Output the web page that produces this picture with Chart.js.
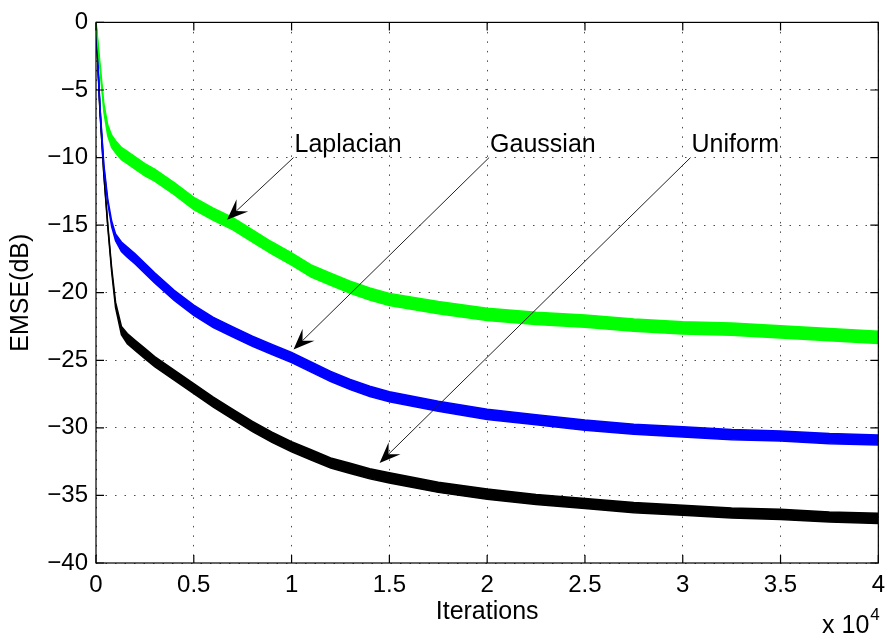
<!DOCTYPE html>
<html>
<head>
<meta charset="utf-8">
<title>EMSE learning curves</title>
<script src="https://cdn.jsdelivr.net/npm/chart.js@4.4.1/dist/chart.umd.min.js"></script>
<style>
  html, body { margin: 0; padding: 0; background: #fff; }
  #wrap { width: 893px; height: 640px; }
</style>
</head>
<body>
<div id="wrap"><canvas id="emseChart" width="893" height="640"></canvas></div>
<script>
// ========================================
// Data
// ========================================
const iterations = [0, 200, 400, 600, 800, 1000, 1300, 1600, 2000, 2500, 3000, 4000, 5000, 6000, 7000, 8000, 9000,
  10000, 11000, 12000, 13000, 14000, 15000, 17500, 20000, 22500, 25000, 27500, 30000, 32500, 35000, 37500, 40000];

// mean EMSE (dB) and peak-to-peak width of the noisy trace (dB)
const laplacianMean = [0, -3.2, -6.3, -8.0, -8.8, -9.2, -9.7, -10.0, -10.4, -10.9, -11.3, -12.3, -13.4, -14.2, -14.9, -15.8, -16.7,
  -17.5, -18.4, -19.0, -19.6, -20.1, -20.5, -21.1, -21.6, -21.9, -22.1, -22.4, -22.6, -22.7, -22.9, -23.1, -23.3];
const laplacianSpread = [0.1, 0.4, 0.6, 0.8, 0.9, 0.9, 0.9, 0.9, 0.9, 0.9, 0.9, 0.9, 0.9, 0.9, 0.9, 0.9, 0.9,
  0.9, 0.9, 0.9, 0.9, 0.9, 0.9, 0.9, 0.9, 0.9, 0.9, 0.9, 0.9, 0.9, 0.9, 0.9, 0.9];

const gaussianMean = [0, -6.2, -10.6, -13.2, -14.9, -15.9, -16.6, -17.0, -17.5, -18.2, -18.9, -20.2, -21.3, -22.2, -22.9, -23.6, -24.2,
  -24.8, -25.5, -26.2, -26.8, -27.3, -27.7, -28.4, -29.0, -29.4, -29.8, -30.1, -30.3, -30.5, -30.6, -30.8, -30.9];
const gaussianSpread = [0, 0.1, 0.2, 0.3, 0.4, 0.5, 0.7, 0.75, 0.75, 0.75, 0.75, 0.75, 0.75, 0.75, 0.75, 0.75, 0.75,
  0.75, 0.75, 0.75, 0.75, 0.75, 0.75, 0.75, 0.75, 0.75, 0.75, 0.75, 0.75, 0.75, 0.75, 0.75, 0.75];

const uniformMean = [0, -6.5, -11.2, -15.0, -18.3, -20.9, -22.8, -23.4, -23.9, -24.5, -25.1, -26.1, -27.1, -28.1, -29.0, -29.9, -30.7,
  -31.4, -32.0, -32.6, -33.0, -33.4, -33.7, -34.4, -34.9, -35.3, -35.6, -35.9, -36.1, -36.3, -36.4, -36.6, -36.7];
const uniformSpread = [0, 0.1, 0.1, 0.2, 0.3, 0.4, 0.6, 0.75, 0.75, 0.75, 0.75, 0.75, 0.75, 0.75, 0.75, 0.75, 0.75,
  0.75, 0.75, 0.75, 0.75, 0.75, 0.75, 0.75, 0.75, 0.75, 0.75, 0.75, 0.75, 0.75, 0.75, 0.75, 0.75];

const xTicks = [0, 5000, 10000, 15000, 20000, 25000, 30000, 35000, 40000];
const xTickLabels = ['0', '0.5', '1', '1.5', '2', '2.5', '3', '3.5', '4'];
const yTicks = [0, -5, -10, -15, -20, -25, -30, -35, -40];
const yTickLabels = ['0', '\u22125', '\u221210', '\u221215', '\u221220', '\u221225', '\u221230', '\u221235', '\u221240'];

// text labels with arrows, in data units
const annotations = [
  { text: 'Laplacian', x: 10100, y: -10, tipX: 6700, tipY: -14.6 },
  { text: 'Gaussian', x: 20100, y: -10, tipX: 10100, tipY: -24.2 },
  { text: 'Uniform', x: 30400, y: -10, tipX: 14500, tipY: -32.6 }
];

// ========================================
// Helpers
// ========================================
const FONT = "'Liberation Sans', Arial, Helvetica, sans-serif";

function band(mean, spread, sign) {
  return iterations.map((it, i) => ({ x: it, y: mean[i] + sign * spread[i] / 2 }));
}

function traceDatasets(mean, spread, color) {
  return [
    { data: band(mean, spread, -1), borderColor: color, borderWidth: 1.5, pointRadius: 0, fill: false },
    { data: band(mean, spread, 1), borderColor: color, borderWidth: 1.5, pointRadius: 0,
      backgroundColor: color, fill: '-1' }
  ];
}

// ========================================
// MATLAB style frame, inner ticks and arrows
// ========================================
const matlabFrame = {
  id: 'matlabFrame',
  afterDatasetsDraw(chart) {
    const { ctx, chartArea: a, scales: { x, y } } = chart;
    ctx.save();

    // box
    ctx.strokeStyle = '#000';
    ctx.lineWidth = 1.2;
    ctx.strokeRect(a.left, a.top, a.right - a.left, a.bottom - a.top);

    // inward ticks
    ctx.beginPath();
    xTicks.forEach(v => {
      const px = x.getPixelForValue(v);
      ctx.moveTo(px, a.bottom); ctx.lineTo(px, a.bottom - 8);
      ctx.moveTo(px, a.top); ctx.lineTo(px, a.top + 8);
    });
    yTicks.forEach(v => {
      const py = y.getPixelForValue(v);
      ctx.moveTo(a.left, py); ctx.lineTo(a.left + 8, py);
      ctx.moveTo(a.right, py); ctx.lineTo(a.right - 8, py);
    });
    ctx.stroke();

    // arrows + labels
    ctx.strokeStyle = '#222';
    ctx.fillStyle = '#000';
    ctx.lineWidth = 1;
    ctx.font = '25px ' + FONT;
    ctx.textAlign = 'left';
    ctx.textBaseline = 'alphabetic';
    annotations.forEach(an => {
      const sx = x.getPixelForValue(an.x), sy = y.getPixelForValue(an.y);
      const tx = x.getPixelForValue(an.tipX), ty = y.getPixelForValue(an.tipY);
      const len = Math.hypot(sx - tx, sy - ty);
      const ux = (sx - tx) / len, uy = (sy - ty) / len;
      const headLen = 21, halfW = 8.5;

      ctx.beginPath();
      ctx.moveTo(sx, sy);
      ctx.lineTo(tx + ux * headLen * 0.6, ty + uy * headLen * 0.6);
      ctx.stroke();

      ctx.beginPath();
      ctx.moveTo(tx, ty);
      ctx.lineTo(tx + ux * headLen - uy * halfW, ty + uy * headLen + ux * halfW);
      ctx.lineTo(tx + ux * headLen * 0.6, ty + uy * headLen * 0.6);
      ctx.lineTo(tx + ux * headLen + uy * halfW, ty + uy * headLen - ux * halfW);
      ctx.closePath();
      ctx.fill();

      ctx.fillText(an.text, sx + 1, sy - 6);
    });

    // exponent under the x axis
    ctx.textAlign = 'right';
    ctx.font = '25px ' + FONT;
    ctx.fillText('x 10', a.right - 9, 633);
    ctx.textAlign = 'left';
    ctx.font = '17px ' + FONT;
    ctx.fillText('4', a.right - 8, 620);

    ctx.restore();
  }
};

// ========================================
// Chart
// ========================================
const tickFont = { family: FONT, size: 24 };
const gridColor = 'rgba(0, 0, 0, 0.7)';

new Chart(document.getElementById('emseChart'), {
  type: 'line',
  data: {
    datasets: [
      ...traceDatasets(laplacianMean, laplacianSpread, '#00ff00'),
      ...traceDatasets(gaussianMean, gaussianSpread, '#0000ff'),
      ...traceDatasets(uniformMean, uniformSpread, '#000000')
    ]
  },
  options: {
    responsive: false,
    animation: false,
    devicePixelRatio: 1,
    layout: { padding: { left: 0, right: 11, top: 15.5, bottom: 0 } },
    elements: { line: { tension: 0 } },
    plugins: {
      legend: { display: false },
      tooltip: { enabled: false }
    },
    scales: {
      x: {
        type: 'linear',
        min: 0,
        max: 40000,
        afterBuildTicks: s => { s.ticks = xTicks.map(v => ({ value: v })); },
        afterFit: s => { s.height = 77; },
        ticks: {
          callback: (v, i) => xTickLabels[i],
          font: tickFont,
          color: '#000',
          padding: 8,
          maxRotation: 0,
          autoSkip: false
        },
        grid: { color: gridColor, lineWidth: 1, drawTicks: false },
        border: { display: false, dash: [1.5, 8] },
        title: {
          display: true,
          text: 'Iterations',
          color: '#000',
          font: { family: FONT, size: 25, lineHeight: 1.2 },
          padding: { top: 0, bottom: 13 }
        }
      },
      y: {
        min: -40,
        max: 0,
        afterBuildTicks: s => { s.ticks = yTicks.map(v => ({ value: v })); },
        afterFit: s => { s.width = 96; },
        ticks: {
          callback: (v, i) => yTickLabels[i],
          font: tickFont,
          color: '#000',
          padding: 8,
          autoSkip: false
        },
        grid: { color: gridColor, lineWidth: 1, drawTicks: false },
        border: { display: false, dash: [1.5, 8] },
        title: {
          display: true,
          text: 'EMSE(dB)',
          color: '#000',
          font: { family: FONT, size: 25, lineHeight: 1.2 },
          padding: { top: 6, bottom: 0 }
        }
      }
    }
  },
  plugins: [matlabFrame]
});
</script>
</body>
</html>
